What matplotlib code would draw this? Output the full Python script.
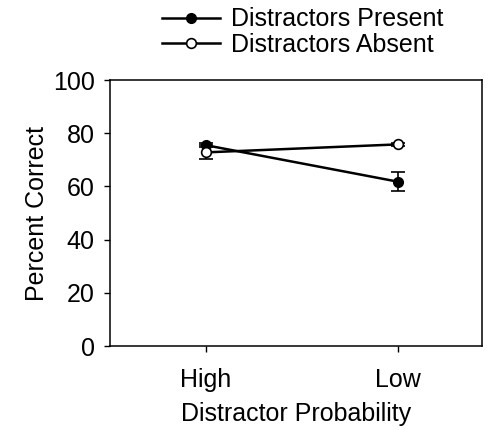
import numpy as np
import matplotlib.pyplot as plt

plt.rcParams['font.family'] = ['Liberation Sans', 'DejaVu Sans']

# data
conditions = ['High', 'Low']
present = [75.5, 61.8]
present_err = [0.8, 3.7]
absent = [72.8, 75.8]
absent_err = [2.6, 0.6]

x = np.arange(len(conditions))
fs = 18

fig = plt.figure(figsize=(4.9, 4.3), dpi=100)
ax = fig.add_axes([0.2245, 0.1953, 0.7592, 0.6186])

ax.errorbar(x, present, yerr=present_err, color='black', lw=1.8,
            marker='o', ms=7, mfc='black', mec='black', capsize=5,
            elinewidth=1.2, capthick=1.2, label='Distractors Present', zorder=3)
ax.errorbar(x, absent, yerr=absent_err, color='black', lw=1.8,
            marker='o', ms=7, mfc='white', mec='black', mew=1.2, capsize=5,
            elinewidth=1.2, capthick=1.2, label='Distractors Absent', zorder=4)

ax.set_xlim(-0.5, 1.44)
ax.set_ylim(0, 100)
ax.set_yticks([0, 20, 40, 60, 80, 100])
ax.set_xticks(x)
ax.set_xticklabels(conditions)
ax.tick_params(labelsize=fs, direction='out', length=4, width=1)
ax.tick_params(axis='y', pad=7)
ax.tick_params(axis='x', pad=12)
ax.set_xlabel('Distractor Probability', fontsize=fs, labelpad=7)
ax.set_ylabel('Percent Correct', fontsize=fs, labelpad=3)
for s in ax.spines.values():
    s.set_linewidth(1.1)

handles, labels = ax.get_legend_handles_labels()
handles = [h[0] for h in handles]
fig.legend(handles, labels, loc='upper left', bbox_to_anchor=(0.285, 1.035),
           frameon=False, fontsize=fs, handlelength=2.3, handletextpad=0.45,
           labelspacing=0.05)

fig.savefig('out.png', dpi=100)
